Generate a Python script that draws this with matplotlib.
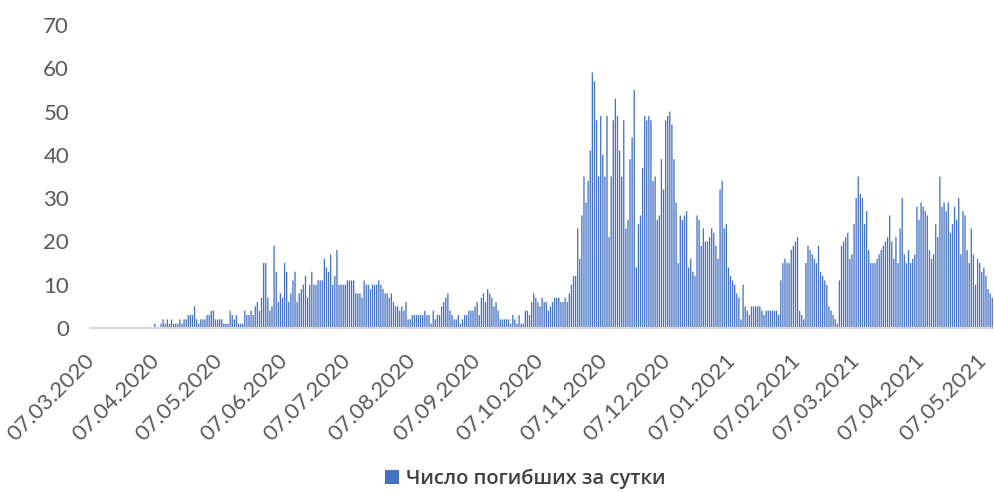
import numpy as np
import pandas as pd
import matplotlib
matplotlib.use('Agg')
import matplotlib.pyplot as plt

# daily deaths, starting 07.03.2020
mar_2020 = [0, 0, 0, 0, 0, 0, 0, 0, 0, 0, 0, 0, 0, 0, 0, 0, 0, 0, 0, 0, 0, 0, 0, 0, 0]
apr_2020 = [0, 0, 0, 0, 0, 1, 0, 0, 1, 2, 1, 2, 1, 2, 1, 1, 1, 2, 1, 2, 2, 3, 3, 3, 5, 2, 1, 2, 2, 2]
may_2020 = [3, 3, 4, 4, 2, 2, 2, 2, 1, 1, 1, 4, 3, 2, 3, 1, 1, 1, 4, 3, 3, 4, 3, 5, 6, 4, 7, 15, 15, 7, 4]
jun_2020 = [5, 19, 13, 6, 8, 7, 15, 13, 6, 8, 11, 13, 6, 8, 9, 10, 12, 7, 10, 13, 10, 10, 11, 11, 11, 16, 14, 13, 17, 10]
jul_2020 = [12, 18, 10, 10, 10, 10, 11, 11, 11, 11, 8, 8, 8, 7, 11, 10, 10, 9, 10, 10, 10, 11, 10, 9, 8, 8, 7, 8, 6, 5, 5]
aug_2020 = [4, 5, 4, 6, 2, 2, 3, 3, 3, 3, 3, 3, 4, 3, 3, 1, 4, 2, 3, 3, 5, 6, 7, 8, 4, 3, 2, 2, 3, 1, 2]
sep_2020 = [3, 3, 4, 4, 4, 5, 6, 3, 7, 8, 6, 9, 8, 7, 5, 6, 4, 2, 2, 2, 2, 2, 1, 3, 2, 1, 3, 1, 1, 4]
oct_2020 = [4, 3, 6, 8, 7, 6, 5, 7, 6, 6, 4, 5, 6, 7, 7, 7, 6, 6, 7, 6, 8, 10, 12, 12, 23, 16, 26, 35, 29, 34, 41]
nov_2020 = [59, 57, 48, 35, 49, 40, 35, 49, 21, 35, 48, 53, 49, 41, 35, 48, 23, 25, 39, 44, 55, 14, 24, 26, 37, 49, 48, 49, 48, 34]
dec_2020 = [35, 25, 26, 39, 32, 48, 49, 50, 47, 39, 29, 15, 26, 25, 26, 27, 14, 16, 13, 12, 26, 25, 19, 23, 20, 20, 21, 23, 22, 19, 16]
jan_2021 = [32, 34, 23, 24, 14, 12, 11, 10, 8, 7, 2, 10, 5, 4, 3, 5, 5, 5, 5, 5, 4, 3, 4, 4, 4, 4, 4, 4, 3, 11, 15]
feb_2021 = [16, 15, 15, 18, 19, 20, 21, 4, 3, 2, 15, 19, 18, 17, 16, 15, 19, 13, 12, 11, 10, 5, 4, 3, 2, 1, 11, 19]
mar_2021 = [20, 21, 22, 16, 17, 24, 30, 35, 31, 30, 24, 27, 18, 15, 15, 15, 16, 17, 18, 19, 20, 21, 26, 20, 16, 21, 15, 23, 30, 17, 15]
apr_2021 = [18, 15, 16, 17, 28, 25, 29, 28, 27, 26, 18, 16, 17, 24, 21, 35, 28, 29, 27, 29, 22, 24, 28, 25, 30, 17, 27, 26, 18, 15]
may_2021 = [23, 17, 10, 16, 15, 13, 14, 12, 9, 8, 7]

series_label = 'Число погибших за сутки'
yticks = [0, 10, 20, 30, 40, 50, 60, 70]

deaths = (mar_2020 + apr_2020 + may_2020 + jun_2020 + jul_2020 + aug_2020 + sep_2020
          + oct_2020 + nov_2020 + dec_2020 + jan_2021 + feb_2021 + mar_2021 + apr_2021 + may_2021)
dates = pd.date_range('2020-03-07', periods=len(deaths), freq='D')
xpos = np.arange(len(deaths))

grey = '#595959'
blue = '#4472C4'

fig = plt.figure(figsize=(9.94, 4.92), dpi=100)
ax = fig.add_axes([0.0905, 0.3333, 0.909, 0.6159])

ax.bar(xpos, deaths, width=0.62, color=blue, label=series_label,
       linewidth=0, snap=False, antialiased=True)

ax.set_ylim(0, 70)
ax.set_xlim(-0.95, len(deaths) - 0.4)
ax.set_yticks(yticks)

# ticks on the 7th of every month
tick_idx = [i for i, d in enumerate(dates) if d.day == 7]
ax.set_xticks(tick_idx)
ax.set_xticklabels([dates[i].strftime('%d.%m.%Y') for i in tick_idx],
                   rotation=45, ha='right', va='center', rotation_mode='anchor')

for lab in ax.get_xticklabels() + ax.get_yticklabels():
    lab.set_fontfamily(['Lato', 'DejaVu Sans'])
    lab.set_fontsize(16)
    lab.set_color(grey)

ax.tick_params(axis='y', length=0, pad=15)
ax.tick_params(axis='x', length=0, pad=21)

for s in ['top', 'right', 'left']:
    ax.spines[s].set_visible(False)
ax.spines['bottom'].set_color('#D9D9D9')
ax.spines['bottom'].set_linewidth(1.5)

leg = fig.legend(loc='lower center', bbox_to_anchor=(0.528, -0.03), frameon=False,
                 handlelength=0.7, handleheight=0.7, handletextpad=0.35,
                 prop={'family': ['Open Sans', 'DejaVu Sans'], 'size': 14.5,
                       'weight': 'semibold'})
for t in leg.get_texts():
    t.set_color('#404040')

fig.savefig('out.png', dpi=100)
